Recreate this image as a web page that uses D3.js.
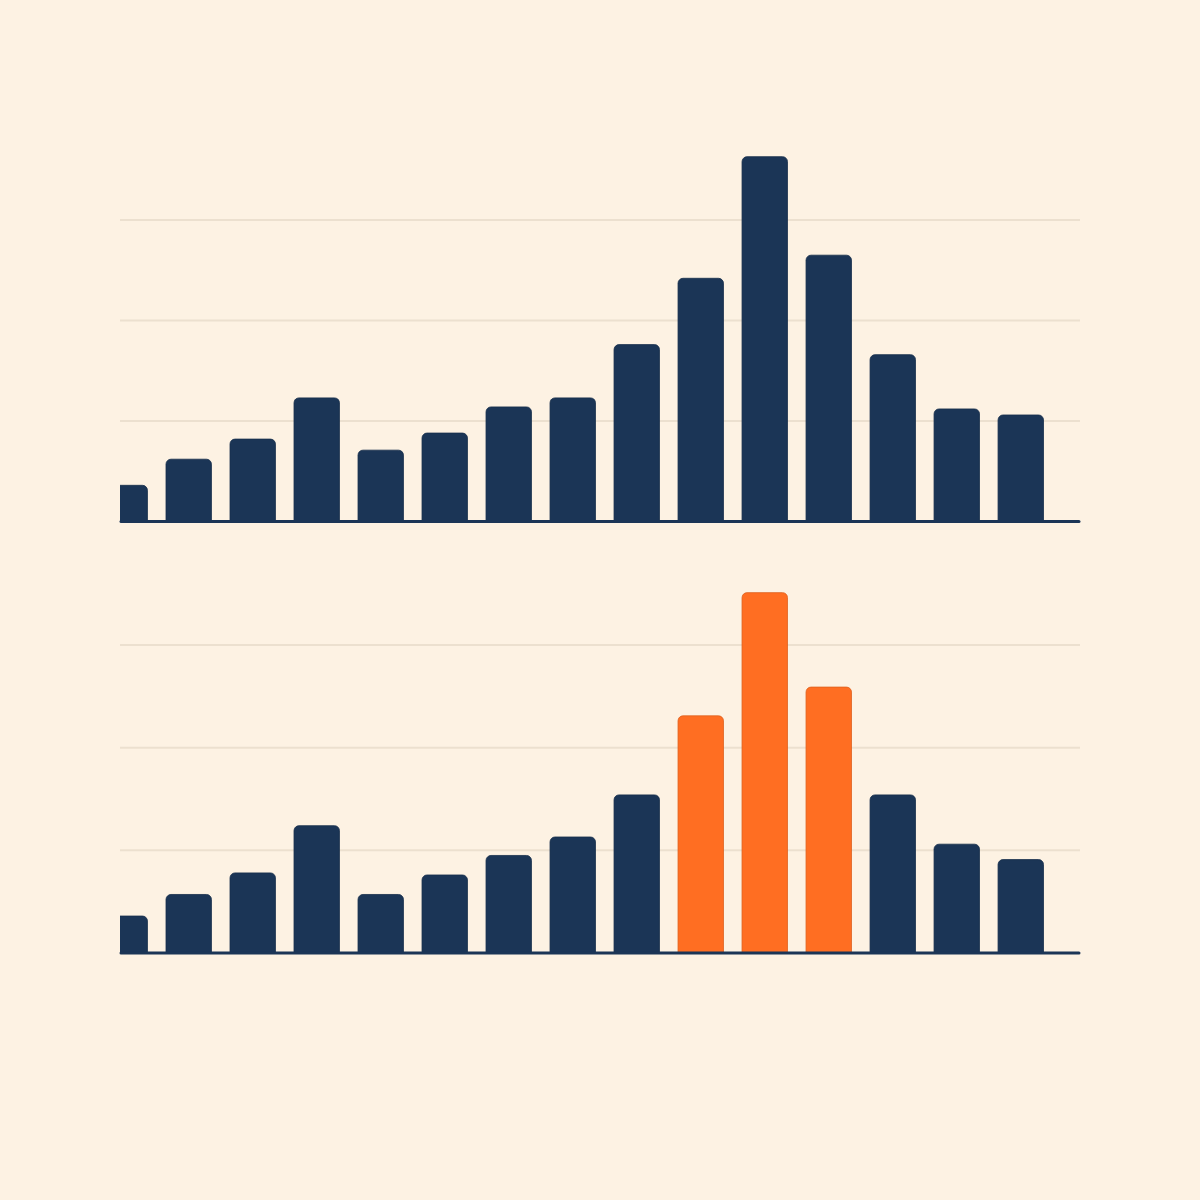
<!DOCTYPE html>
<html lang="en">
<head>
<meta charset="utf-8">
<title>Bars</title>
<script src="https://d3js.org/d3.v7.min.js"></script>
<style>
  html, body { margin: 0; padding: 0; background: #fdf2e3; }
  svg { display: block; }
</style>
</head>
<body>
<script>
// data (units = gridline steps)
var categories = d3.range(1, 16).map(function(i) { return "b" + i; });
var topValues = [0.36, 0.62, 0.82, 1.23, 0.71, 0.88, 1.14, 1.23, 1.76, 2.42, 3.63, 2.65, 1.66, 1.12, 1.06];
var bottomValues = [0.36, 0.57, 0.78, 1.24, 0.57, 0.76, 0.95, 1.13, 1.54, 2.31, 3.51, 2.59, 1.54, 1.06, 0.91];
var highlighted = ["b10", "b11", "b12"];
var gridTicks = [1, 2, 3];

var W = 1200, H = 1200;
var navy = "#1b3556", orange = "#ff6e22", grid = "#ece0cf";

var svg = d3.select("body").append("svg").attr("width", W).attr("height", H);
svg.append("rect").attr("width", W).attr("height", H).attr("fill", "#fdf2e3");

svg.append("clipPath").attr("id", "clip")
  .append("rect").attr("x", 120).attr("y", 0).attr("width", 960).attr("height", H);

var x = d3.scaleBand().domain(categories).range([102, 1043.5]).paddingInner(0.29).paddingOuter(0);

function topRounded(x0, y0, w, yBase, r) {
  var p = d3.path();
  p.moveTo(x0, yBase);
  p.lineTo(x0, y0 + r);
  p.arcTo(x0, y0, x0 + r, y0, r);
  p.lineTo(x0 + w - r, y0);
  p.arcTo(x0 + w, y0, x0 + w, y0 + r, r);
  p.lineTo(x0 + w, yBase);
  p.closePath();
  return p.toString();
}

function panel(values, base, top, colorFn) {
  var y = d3.scaleLinear().domain([0, 3]).range([base, top]);
  var g = svg.append("g");

  g.selectAll(".grid").data(gridTicks).enter().append("line")
    .attr("x1", 120).attr("x2", 1080)
    .attr("y1", function(d) { return y(d); })
    .attr("y2", function(d) { return y(d); })
    .attr("stroke", grid).attr("stroke-width", 2);

  g.append("g").attr("clip-path", "url(#clip)")
    .selectAll("path").data(values).enter().append("path")
    .attr("d", function(d, i) {
      return topRounded(x(categories[i]), y(d), x.bandwidth(), y(0), 5);
    })
    .attr("fill", function(d, i) { return colorFn(categories[i]); })
    .attr("stroke", function(d, i) { return d3.color(colorFn(categories[i])).darker(0.4); })
    .attr("stroke-width", 0.8);

  g.append("line")
    .attr("x1", 121).attr("x2", 1079)
    .attr("y1", y(0)).attr("y2", y(0))
    .attr("stroke", navy).attr("stroke-width", 3)
    .attr("stroke-linecap", "round");
}

panel(topValues, 521.5, 220, function() { return navy; });
panel(bottomValues, 953, 645, function(c) {
  return highlighted.indexOf(c) >= 0 ? orange : navy;
});
</script>
</body>
</html>
